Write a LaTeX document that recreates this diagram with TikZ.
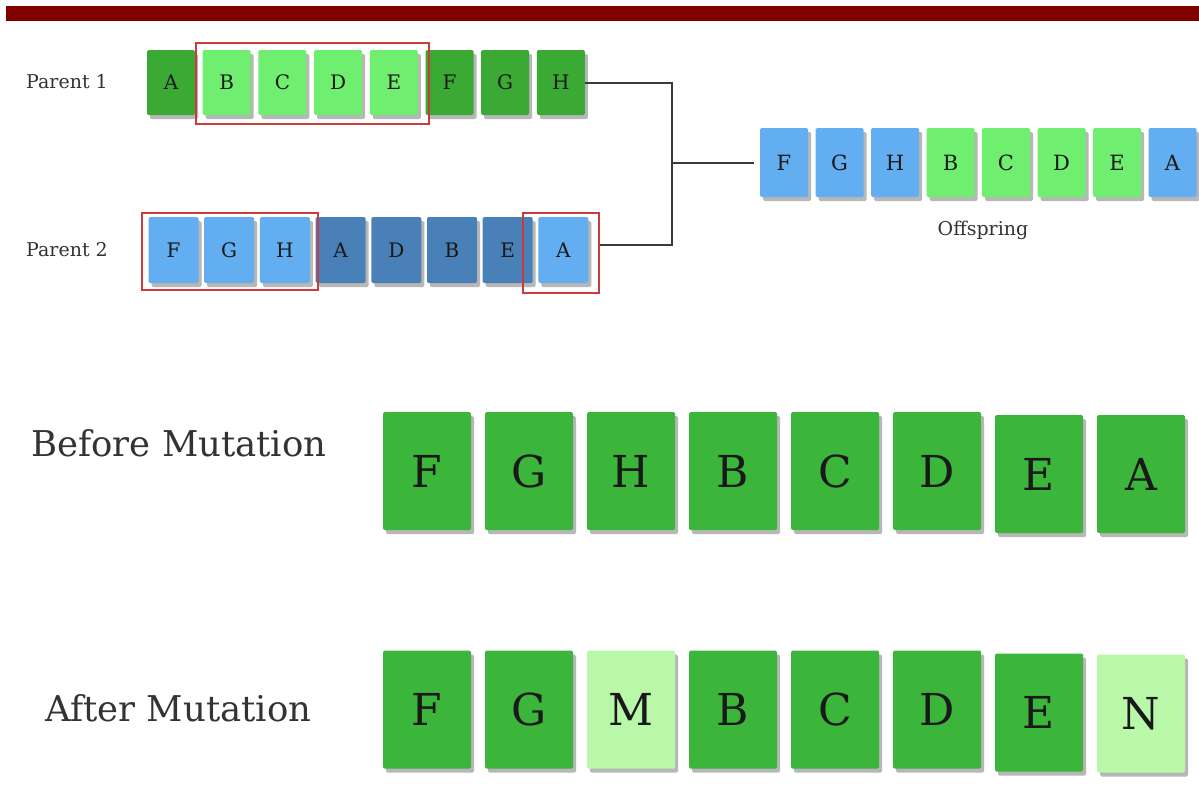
\documentclass[tikz,border=0pt]{standalone}
\usepackage{fontspec}
\setmainfont{DejaVu Serif}
\usetikzlibrary{shadows,fit}
\definecolor{barred}{HTML}{800000}
\definecolor{dkgreen}{HTML}{3AAA35}
\definecolor{ltgreen}{HTML}{70EE70}
\definecolor{ltblue}{HTML}{62AEF0}
\definecolor{dkblue}{HTML}{4A80B8}
\definecolor{mgreen}{HTML}{3BB53A}
\definecolor{pgreen}{HTML}{B9F7A9}
\definecolor{redline}{HTML}{CC3B3B}
\definecolor{linegray}{HTML}{3A3A3A}
\definecolor{labelgray}{HTML}{333333}
\tikzset{
  gene/.style={rounded corners=1.5pt, inner sep=0pt, text=black!90,
    drop shadow={shadow xshift=3pt, shadow yshift=-4pt, fill=black!35, opacity=.8}},
  smallgene/.style={gene, minimum width=48pt, minimum height=65pt, font=\fontsize{20}{20}\selectfont},
  biggene/.style={gene, minimum width=88pt, minimum height=118pt, font=\fontsize{44}{44}\selectfont},
  redbox/.style={draw=redline, line width=1.4pt, inner sep=0pt},
  conn/.style={draw=linegray, line width=2pt},
  lbl/.style={text=labelgray, inner sep=0pt}
}
\begin{document}
\begin{tikzpicture}[x=1pt,y=-1pt]
\useasboundingbox (0,0) rectangle (1199,785);
\fill[white] (0,0) rectangle (1199,785);
\node[fill=barred, minimum width=1193pt, minimum height=15pt, inner sep=0pt, anchor=north west] (bar) at (6,6) {};

% Parent 1
\node[lbl, font=\fontsize{19}{19}\selectfont, anchor=west] (lp1) at (26,82) {Parent 1};
\foreach \L/\c [count=\i from 0] in {A/dkgreen,B/ltgreen,C/ltgreen,D/ltgreen,E/ltgreen,F/dkgreen,G/dkgreen,H/dkgreen}
  \node[smallgene, fill=\c] (p1\i) at (171+55.7*\i, 82.5) {\L};

% Parent 2
\node[lbl, font=\fontsize{19}{19}\selectfont, anchor=west] (lp2) at (26,250) {Parent 2};
\foreach \L/\c [count=\i from 0] in {F/ltblue,G/ltblue,H/ltblue,A/dkblue,D/dkblue,B/dkblue,E/dkblue,A/ltblue}
  \node[smallgene, fill=\c, minimum width=50pt, minimum height=66pt] (p2\i) at (173.5+55.7*\i, 250) {\L};

% red selection boxes
\node[redbox, fit={(196,43) (429,124)}] (r1) {};
\node[redbox, fit={(142,213) (318,290)}] (r2) {};
\node[redbox, fit={(523,213) (599,293)}] (r3) {};

% Offspring
\foreach \L/\c [count=\i from 0] in {F/ltblue,G/ltblue,H/ltblue,B/ltgreen,C/ltgreen,D/ltgreen,E/ltgreen,A/ltblue}
  \node[smallgene, fill=\c, minimum height=69pt, font=\fontsize{21}{21}\selectfont] (of\i) at (784+55.5*\i, 162.5) {\L};
\node[lbl, font=\fontsize{19}{19}\selectfont] (loff) at (983,230) {Offspring};

% connectors
\coordinate (j) at (672,162.5);
\draw[conn] (p17.east) -| (j);
\draw[conn] (j) |- ([yshift=8pt]r3.east);
\draw[conn] (j) -- ([xshift=-6pt]of0.west);

% Before Mutation
\node[lbl, font=\fontsize{35.5}{35.5}\selectfont, anchor=west] (lbm) at (31,443) {Before Mutation};
\foreach \L/\dy [count=\i from 0] in {F/0,G/0,H/0,B/0,C/0,D/0,E/3,A/3}
  \node[biggene, fill=mgreen] (bm\i) at (427+102*\i, 471+\dy) {\L};

% After Mutation
\node[lbl, font=\fontsize{35.5}{35.5}\selectfont, anchor=west] (lam) at (45,708) {After Mutation};
\foreach \L/\c/\dy [count=\i from 0] in {F/mgreen/0,G/mgreen/0,M/pgreen/0,B/mgreen/0,C/mgreen/0,D/mgreen/0,E/mgreen/3,N/pgreen/4}
  \node[biggene, fill=\c] (am\i) at (427+102*\i, 709.5+\dy) {\L};
\end{tikzpicture}
\end{document}
